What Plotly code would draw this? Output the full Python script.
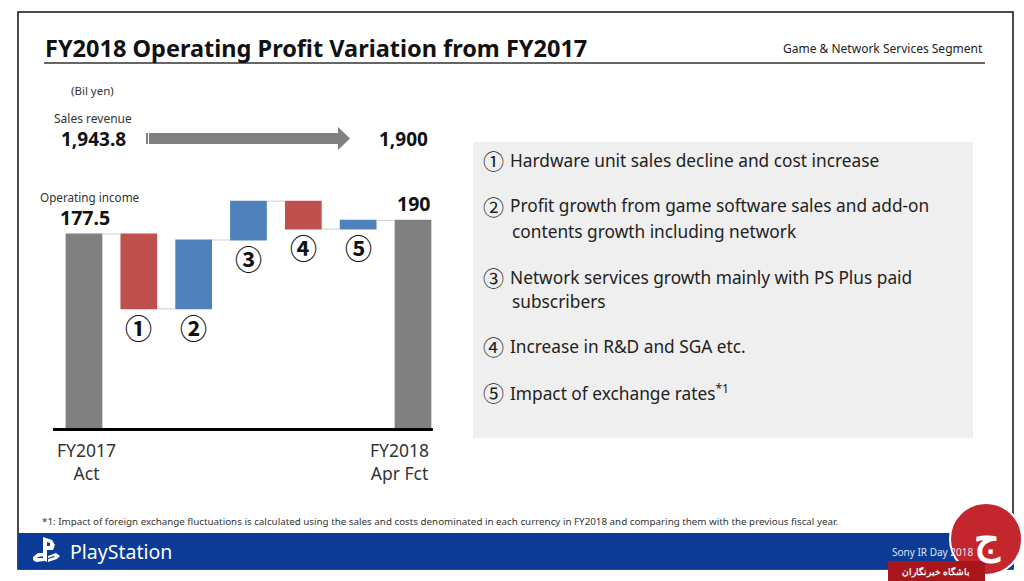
import plotly.graph_objects as go

W, H = 1024, 581

# ---------------- data ----------------
categories = ["FY2017 Act", "①", "②", "③", "④", "⑤", "FY2018 Apr Fct"]
measures = ["absolute", "relative", "relative", "relative", "relative", "relative", "total"]
op_income = [177.5, -68.5, 63.0, 35.5, -25.5, 8.0, 190.0]
cat_labels = ["FY2017<br>Act", "", "", "", "", "", "FY2018<br>Apr Fct"]
sales_revenue = [1943.8, 1900]
sales_labels = ["1,943.8", "1,900"]
items = [
    ("①", ["Hardware unit sales decline and cost increase"]),
    ("②", ["Profit growth from game software sales and add-on", "contents growth including network"]),
    ("③", ["Network services growth mainly with PS Plus paid", "subscribers"]),
    ("④", ["Increase in R&D and SGA etc."]),
    ("⑤", ["Impact of exchange rates<sup>*1</sup>"]),
]

RED = "#C0504D"
BLUE = "#4F81BD"
GRAY = "#808080"
TXT = "#222222"
FONT = "Noto Sans"
CJK = "Noto Sans CJK JP"


def px(x):
    return x / W


def py(y):
    return 1 - y / H


fig = go.Figure()
fig.add_trace(go.Waterfall(
    x=categories,
    y=op_income,
    measure=measures,
    increasing=dict(marker=dict(color=BLUE)),
    decreasing=dict(marker=dict(color=RED)),
    totals=dict(marker=dict(color=GRAY)),
    connector=dict(mode="between", line=dict(color="#d0d0d0", width=1)),
    hoverinfo="skip",
    showlegend=False,
))

annotations = []


def ann(text, x, y, size, color=TXT, bold=False, xanchor="left", family=FONT, yanchor="middle"):
    if bold:
        text = "<b>" + text + "</b>"
    annotations.append(dict(
        text=text, x=px(x), y=py(y), xref="paper", yref="paper",
        xanchor=xanchor, yanchor=yanchor, showarrow=False,
        font=dict(size=size, color=color, family=family),
    ))


# title & header
ann("FY2018 Operating Profit Variation from FY2017", 43, 48, 23.5, color="#111111", bold=True)
ann("Game & Network Services Segment", 985, 49, 12, color="#222222", xanchor="right")

# upper-left labels
ann("(Bil yen)", 69, 91, 11.5, color="#333333")
ann("Sales revenue", 52, 118, 12, color="#333333")
ann(sales_labels[0], 59, 139, 19, color="#111111", bold=True)
ann(sales_labels[1], 430, 139, 19, color="#111111", bold=True, xanchor="right")
ann("Operating income", 38, 197, 11.7, color="#333333")

# waterfall value labels & circled numbers, computed from data
running = 0.0
levels = []
for m, v in zip(measures, op_income):
    if m == "absolute":
        start, end = 0.0, v
        running = v
    elif m == "relative":
        start, end = running, running + v
        running = end
    else:
        start, end = 0.0, running
    levels.append((start, end))

for i, (cat, (s, e)) in enumerate(zip(categories, levels)):
    if measures[i] == "relative":
        annotations.append(dict(
            text="<b>" + cat + "</b>", x=cat, y=min(s, e), xref="x", yref="y",
            xanchor="center", yanchor="top", yshift=3, showarrow=False,
            font=dict(size=27, color="#111111", family=CJK),
        ))
    else:
        val = e
        txt = f"{val:g}"
        annotations.append(dict(
            text="<b>" + txt + "</b>", x=cat, y=val, xref="x", yref="y",
            xanchor="center", yanchor="bottom", yshift=1, showarrow=False,
            xshift=1,
            font=dict(size=19.5, color="#111111", family=FONT),
        ))
        annotations.append(dict(
            text=cat_labels[i], x=cat, y=0, xref="x", yref="y",
            xanchor="center", yanchor="top", yshift=-8,
            xshift=3 if i == 0 else -13, showarrow=False,
            font=dict(size=17.5, color="#333333", family=FONT),
        ))

# right box items
line_y = [[160], [206, 231], [277, 301], [346], [392]]
for (num, lines), ys in zip(items, line_y):
    ann(num, 481, ys[0], 21, color=TXT, family=CJK)
    for j, (ln, yy) in enumerate(zip(lines, ys)):
        ann(ln, 508 if j == 0 else 510, yy, 17.3, color=TXT)

# footnote & footer
ann("*1: Impact of foreign exchange fluctuations is calculated using the sales and costs denominated in each currency in FY2018 and comparing them with the previous fiscal year.",
    40, 521, 9.8, color="#333333")
ann("PlayStation", 68, 551, 19.5, color="white")
ann("Sony IR Day 2018", 890, 552, 10, color="#dfe6f5")
ann("باشگاه خبرنگاران", 936, 571, 9, color="white", bold=True, xanchor="center")
ann("ج", 987, 537, 40, color="white", bold=True, xanchor="center")

shapes = []


def rect(x0, y0, x1, y1, fill=None, line_color=None, line_width=0, layer="below"):
    shapes.append(dict(
        type="rect", xref="paper", yref="paper",
        x0=px(x0), x1=px(x1), y0=py(y1), y1=py(y0),
        fillcolor=fill if fill else "rgba(0,0,0,0)",
        line=dict(color=line_color if line_color else "rgba(0,0,0,0)", width=line_width),
        layer=layer,
    ))


def path(points, fill, layer="below"):
    d = "M " + " L ".join(f"{px(x):.5f},{py(y):.5f}" for x, y in points) + " Z"
    shapes.append(dict(type="path", xref="paper", yref="paper", path=d,
                       fillcolor=fill, line=dict(width=0), layer=layer))


# slide frame
rect(18, 12, 1013, 569, line_color="#111111", line_width=1.5)
# title underline
shapes.append(dict(type="line", xref="paper", yref="paper",
                   x0=px(44), x1=px(985), y0=py(63), y1=py(63),
                   line=dict(color="#333333", width=1.5)))
# gray explanation box
rect(473, 142, 973, 438, fill="#efefef")
# sales arrow
rect(146, 133, 148, 144, fill=GRAY)
path([(149, 133), (338, 133), (338, 127), (350, 138.5), (338, 150), (338, 144), (149, 144)], GRAY)
# footer
rect(18, 533, 1013, 569, fill="#0b3a97")
# playstation logo (approx)
path([(43, 560), (43, 537), (52, 540), (55, 545), (53, 550), (47, 550), (47, 546),
      (50, 546), (50, 543), (47, 542), (47, 562)], "white", layer="above")
path([(33, 557), (38, 553), (44, 553), (44, 556), (38, 557), (37, 558), (44, 558),
      (44, 561), (36, 562), (33, 560)], "white", layer="above")
path([(48, 556), (56, 553), (60, 556), (57, 559), (48, 562), (48, 559), (55, 557),
      (54, 556), (48, 558)], "white", layer="above")
# watermark (approx)
shapes.append(dict(type="circle", xref="paper", yref="paper",
                   x0=px(950), x1=px(1022), y0=py(575), y1=py(503),
                   fillcolor="#c4262e", line=dict(color="white", width=2), layer="above"))
rect(888, 561, 985, 581, fill="#a8161c", layer="above")

fig.update_layout(
    width=W, height=H,
    margin=dict(l=0, r=0, t=0, b=0),
    paper_bgcolor="white", plot_bgcolor="rgba(0,0,0,0)",
    waterfallgap=0.33,
    showlegend=False,
    xaxis=dict(domain=[px(53), px(433)], range=[-0.565, 6.365],
               showline=True, linecolor="black", linewidth=3,
               showticklabels=False, showgrid=False, ticks="", zeroline=False,
               fixedrange=True),
    yaxis=dict(domain=[py(428), py(176.6)], range=[0, 230],
               showline=False, showticklabels=False, showgrid=False, zeroline=False,
               fixedrange=True),
    annotations=annotations,
    shapes=shapes,
)

fig.write_html("out.html")
